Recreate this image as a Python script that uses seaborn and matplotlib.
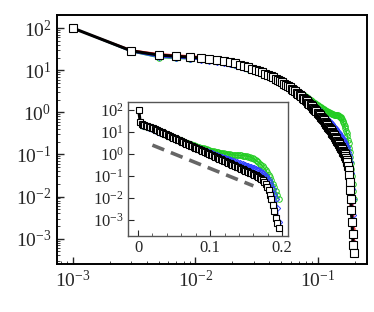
import numpy as np
import matplotlib
matplotlib.use("Agg")
import matplotlib.pyplot as plt
import matplotlib.ticker as mticker
import seaborn as sns

# x positions of the samples
x_vals = [round(0.001 + 0.002 * k, 3) for k in range(98)]

# log10 of y
black_exp = [2.00, 1.46, 1.36, 1.33, 1.31, 1.29, 1.265, 1.24, 1.215, 1.185,
             1.16, 1.13, 1.10, 1.07, 1.04, 1.01, 0.98, 0.95, 0.92, 0.89,
             0.86, 0.83, 0.80, 0.77, 0.74, 0.71, 0.68, 0.65, 0.62, 0.59,
             0.56, 0.53, 0.50, 0.47, 0.44, 0.41, 0.38, 0.35, 0.32, 0.29,
             0.26, 0.23, 0.20, 0.17, 0.14, 0.11, 0.08, 0.05, 0.02, -0.01,
             -0.04, -0.07, -0.10, -0.13, -0.16, -0.19, -0.22, -0.25, -0.28, -0.31,
             -0.34, -0.37, -0.40, -0.43, -0.46, -0.49, -0.52, -0.55, -0.58, -0.61,
             -0.64, -0.67, -0.70, -0.73, -0.76, -0.79, -0.82, -0.85, -0.88, -0.91,
             -0.94, -0.97, -1.00, -1.04, -1.08, -1.13, -1.19, -1.27, -1.37, -1.50,
             -1.66, -1.85, -2.07, -2.32, -2.60, -2.90, -3.15, -3.35]

red_exp = [2.00, 1.48, 1.39, 1.36, 1.34, 1.32, 1.295, 1.27, 1.245, 1.215,
           1.19, 1.16, 1.13, 1.10, 1.07, 1.04, 1.01, 0.98, 0.95, 0.92,
           0.89, 0.86, 0.83, 0.80, 0.77, 0.74, 0.71, 0.68, 0.65, 0.62,
           0.59, 0.56, 0.53, 0.50, 0.47, 0.44, 0.41, 0.38, 0.35, 0.32,
           0.29, 0.26, 0.23, 0.20, 0.17, 0.14, 0.11, 0.08, 0.05, 0.02,
           0.01, -0.02, -0.05, -0.08, -0.11, -0.14, -0.17, -0.20, -0.23, -0.26,
           -0.29, -0.32, -0.35, -0.38, -0.41, -0.44, -0.47, -0.50, -0.53, -0.56,
           -0.59, -0.62, -0.65, -0.68, -0.71, -0.74, -0.77, -0.80, -0.83, -0.86,
           -0.89, -0.92, -0.95, -0.99, -1.03, -1.08, -1.14, -1.21, -1.30, -1.41,
           -1.55, -1.72, -1.92, -2.15, -2.42, -2.72, -3.00, -3.30]

blue_exp = [2.00, 1.44, 1.31, 1.29, 1.27, 1.25, 1.225, 1.20, 1.175, 1.145,
            1.12, 1.09, 1.06, 1.03, 1.00, 0.97, 0.94, 0.91, 0.885, 0.855,
            0.83, 0.80, 0.775, 0.745, 0.72, 0.70, 0.67, 0.645, 0.615, 0.59,
            0.56, 0.535, 0.51, 0.48, 0.455, 0.43, 0.405, 0.375, 0.35, 0.325,
            0.30, 0.275, 0.25, 0.22, 0.195, 0.17, 0.145, 0.12, 0.095, 0.07,
            0.045, 0.02, -0.005, -0.03, -0.055, -0.08, -0.10, -0.125, -0.15, -0.17,
            -0.195, -0.215, -0.24, -0.26, -0.285, -0.305, -0.33, -0.35, -0.375, -0.395,
            -0.42, -0.44, -0.465, -0.49, -0.51, -0.535, -0.56, -0.585, -0.61, -0.635,
            -0.66, -0.69, -0.72, -0.75, -0.79, -0.83, -0.88, -0.94, -1.01, -1.09,
            -1.19, -1.31, -1.45, -1.62, -1.82, -2.06, -2.45, -3.10]

green_exp = [2.00, 1.44, 1.30, 1.28, 1.27, 1.26, 1.24, 1.22, 1.19, 1.16,
             1.13, 1.10, 1.07, 1.04, 1.01, 0.98, 0.95, 0.92, 0.89, 0.865,
             0.84, 0.81, 0.785, 0.76, 0.735, 0.71, 0.685, 0.66, 0.635, 0.61,
             0.585, 0.56, 0.54, 0.515, 0.49, 0.47, 0.445, 0.42, 0.40, 0.375,
             0.355, 0.33, 0.31, 0.29, 0.27, 0.25, 0.23, 0.21, 0.19, 0.17,
             0.15, 0.13, 0.115, 0.10, 0.085, 0.07, 0.055, 0.04, 0.03, 0.02,
             0.01, 0.0, -0.01, -0.02, -0.03, -0.04, -0.05, -0.055, -0.06, -0.065,
             -0.07, -0.07, -0.075, -0.08, -0.09, -0.10, -0.12, -0.14, -0.17, -0.20,
             -0.24, -0.28, -0.33, -0.38, -0.44, -0.50, -0.57, -0.65, -0.74, -0.84,
             -0.95, -1.07, -1.20, -1.35, -1.52, -1.70, -1.88, -2.05]

# dashed guide line in the inset
guide_x = [0.02, 0.16]
guide_y = [2.5, 0.035]

sns.set_style("ticks")
plt.rcParams["font.family"] = ["Liberation Serif", "DejaVu Serif"]
plt.rcParams["mathtext.fontset"] = "stix"
plt.rcParams["xtick.direction"] = "in"
plt.rcParams["ytick.direction"] = "in"

x = np.array(x_vals)
series = [
    (green_exp, "#22cc22", "o", 4.0),
    (blue_exp, "#3344ff", "D", 3.2),
    (red_exp, "#ee1111", "^", 2.6),
]

fig = plt.figure(figsize=(3.74, 3.12), dpi=100)
ax = fig.add_axes([0.152, 0.154, 0.829, 0.798])
ins = fig.add_axes([0.342, 0.244, 0.428, 0.429])

for a in (ax, ins):
    for vals, col, mk, ms in series:
        sns.lineplot(x=x, y=10 ** np.array(vals), ax=a, color=col, lw=1.0,
                     marker=mk, ms=ms, mfc="none", mec=col, mew=0.7)
    sns.lineplot(x=x, y=10 ** np.array(black_exp), ax=a, color="black", lw=2.2,
                 marker="s", ms=5.8 if a is ax else 4.2, mfc="white", mec="black", mew=0.8)

sns.lineplot(x=guide_x, y=guide_y, ax=ins, color="#666666", lw=2.6,
             linestyle=(0, (3.5, 2.0)))

# main axes
ax.set_xscale("log")
ax.set_yscale("log")
ax.set_xlim(7.4e-4, 0.25)
ax.set_ylim(2.5e-4, 205)
ax.xaxis.set_major_locator(mticker.FixedLocator([1e-3, 1e-2, 1e-1]))
ax.yaxis.set_major_locator(mticker.FixedLocator([1e-3, 1e-2, 1e-1, 1, 10, 100]))
ax.xaxis.set_minor_locator(mticker.LogLocator(base=10, subs=np.arange(2, 10)))
ax.yaxis.set_minor_locator(mticker.LogLocator(base=10, subs=np.arange(2, 10)))
ax.tick_params(which="major", length=5, width=1, labelsize=14, pad=4)
ax.tick_params(which="minor", length=2.5, width=0.6)
for s in ax.spines.values():
    s.set_linewidth(1.4)
    s.set_color("black")

# inset
ins.set_yscale("log")
ins.set_xlim(-0.014, 0.208)
ins.set_ylim(1.86e-4, 229)
ins.set_xticks([0, 0.1, 0.2])
ins.set_xticklabels(["0", "0.1", "0.2"])
ins.xaxis.set_minor_locator(mticker.MultipleLocator(0.02))
ins.yaxis.set_major_locator(mticker.FixedLocator([1e-3, 1e-2, 1e-1, 1, 10, 100]))
ins.yaxis.set_minor_locator(mticker.LogLocator(base=10, subs=np.arange(2, 10)))
ins.tick_params(which="major", length=4, width=0.8, labelsize=12, pad=3)
ins.tick_params(which="minor", length=2, width=0.5)
for s in ins.spines.values():
    s.set_linewidth(1.0)
    s.set_color("#555555")

for a in (ax, ins):
    a.set_xlabel("")
    a.set_ylabel("")
    leg = a.get_legend()
    if leg:
        leg.remove()

fig.savefig("out.png", dpi=100)
